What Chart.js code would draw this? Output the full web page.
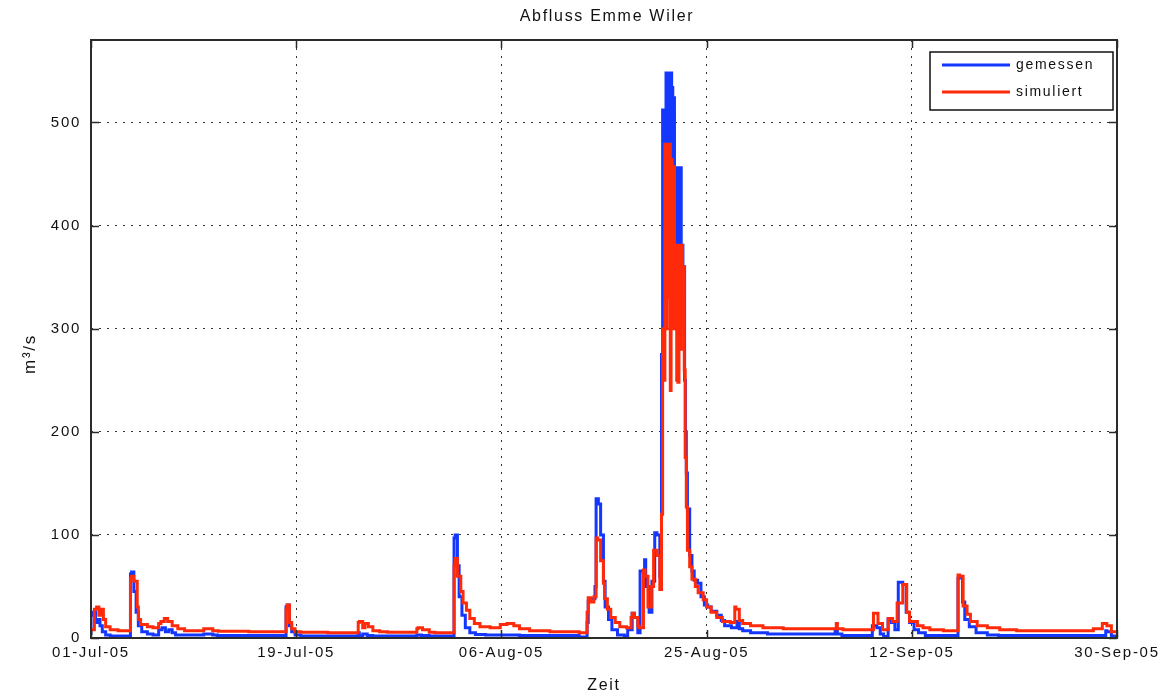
<!DOCTYPE html>
<html>
<head>
<meta charset="utf-8">
<title>Abfluss Emme Wiler</title>
<script src="https://cdn.jsdelivr.net/npm/chart.js@4.4.1/dist/chart.umd.min.js"></script>
<style>
  html, body { margin: 0; padding: 0; background: #ffffff; }
  #wrap { width: 1165px; height: 699px; }
</style>
</head>
<body>
<div id="wrap"><canvas id="c" width="1165" height="699"></canvas></div>
<script>
// Discharge of the Emme at Wiler, 01-Jul-2005 .. 30-Sep-2005.
// Time is given in days since 01-Jul-05 00:00, flow in m3/s.

const titleText = 'Abfluss Emme Wiler';
const xAxisTitle = 'Zeit';
const yAxisTitle = 'm³/s';
const seriesNames = ['gemessen', 'simuliert'];

const xTickDay = [0, 18.2, 36.4, 54.6, 72.8, 91];
const xTickLabel = ['01-Jul-05', '19-Jul-05', '06-Aug-05', '25-Aug-05', '12-Sep-05', '30-Sep-05'];
const yTicks = [0, 100, 200, 300, 400, 500];

// measured discharge
const measuredDay = [
  0, 0.15, 0.4, 0.55, 0.8, 1.0, 1.3, 1.7, 2.4, 3.5,
  3.6, 3.8, 4.0, 4.2, 4.5, 5.0, 5.5, 6.0, 6.3, 6.6,
  6.9, 7.2, 7.5, 8.3, 10, 10.8, 11.2, 14, 17.3, 17.4,
  17.6, 17.8, 18.1, 18.6, 20, 23.7, 23.8, 24.1, 24.5, 25,
  28.9, 29.3, 30, 32.2, 32.3, 32.5, 32.65, 32.9, 33.2, 33.6,
  34.1, 35, 38, 43.3, 43.4, 44.0, 44.1, 44.3, 44.7, 44.8,
  45.0, 45.2, 45.45, 45.6, 45.9, 46.2, 46.7, 47.3, 47.6, 48.0,
  48.2, 48.5, 48.7, 49.1, 49.2, 49.5, 49.75, 50.0, 50.2, 50.45,
  50.6, 50.7, 50.8, 50.9, 51.0, 51.1, 51.2, 51.3, 51.4, 51.5,
  51.6, 51.7, 51.75, 51.85, 51.95, 52.05, 52.15, 52.25, 52.35, 52.45,
  52.5, 52.58, 52.65, 52.72, 52.8, 52.9, 53.1, 53.3, 53.5, 53.8,
  54.1, 54.4, 54.7, 55.0, 55.5, 55.9, 56.2, 56.8, 57.3, 57.5,
  57.8, 58.5, 60, 62, 66, 66.2, 66.6, 69.3, 69.7, 70.0,
  70.3, 70.7, 71.0, 71.3, 71.6, 72.0, 72.3, 72.6, 73.0, 73.4,
  74.0, 75.5, 76.9, 77.0, 77.3, 77.5, 77.9, 78.5, 79.5, 80.5,
  90, 90.1, 90.5, 91
];
const measuredFlow = [
  3, 22, 25, 15, 18, 12, 6, 3, 2, 2,
  62, 64, 45, 25, 12, 6, 4, 3, 8, 10,
  6, 8, 5, 3, 3, 4, 3, 2.5, 2.5, 30,
  32, 12, 6, 3, 2, 2, 5, 2, 4, 2.5,
  2, 3, 2.5, 2, 97, 100, 70, 40, 22, 10,
  5, 3.5, 3, 2.5, 1, 1, 15, 36, 38, 50,
  135, 130, 100, 55, 30, 18, 8, 3, 2, 8,
  24, 20, 5, 65, 76, 50, 25, 55, 102, 100,
  60, 275, 512, 300, 512, 548, 350, 548, 380, 548,
  534, 400, 524, 380, 456, 300, 456, 320, 456, 300,
  381, 320, 360, 250, 200, 160, 125, 80, 65, 56,
  53, 40, 32, 30, 26, 22, 17, 12, 10, 16,
  9, 7, 5, 4, 4, 8, 4, 2.5, 12, 10,
  4, 1.5, 18, 15, 8, 54, 52, 25, 15, 8,
  5, 2.5, 2.5, 58, 59, 35, 18, 11, 5, 3,
  2.5, 7, 6, 2
];

// simulated discharge
const simulatedDay = [
  0, 0.3, 0.5, 0.7, 0.9, 1.1, 1.3, 1.7, 2.4, 3.5,
  3.6, 3.8, 4.1, 4.2, 4.4, 5.0, 5.5, 6.0, 6.2, 6.5,
  6.8, 7.2, 7.7, 8.3, 10, 10.8, 11.3, 14, 17.3, 17.4,
  17.6, 17.8, 18.1, 18.6, 21, 23.7, 23.8, 24.1, 24.3, 24.6,
  25, 25.6, 26.3, 28.9, 29.0, 29.4, 30.0, 30.5, 32.2, 32.3,
  32.5, 32.8, 33.0, 33.3, 33.6, 34.0, 34.5, 35.4, 36.3, 36.9,
  37.5, 38.0, 38.9, 40.7, 43.3, 44.0, 44.1, 44.3, 44.6, 44.8,
  44.95, 45.2, 45.45, 45.55, 45.8, 46.1, 46.5, 46.9, 47.5, 47.9,
  48.0, 48.2, 48.5, 48.6, 49.0, 49.15, 49.4, 49.7, 49.9, 50.2,
  50.45, 50.6, 50.7, 50.8, 50.9, 51.0, 51.1, 51.2, 51.3, 51.38,
  51.45, 51.55, 51.65, 51.75, 51.85, 51.95, 52.05, 52.15, 52.25, 52.35,
  52.45, 52.55, 52.62, 52.7, 52.8, 52.9, 53.1, 53.3, 53.6, 53.85,
  54.3, 54.6, 55.0, 55.5, 56.0, 56.7, 57.1, 57.2, 57.5, 57.8,
  58.5, 59.6, 61.4, 62, 66.1, 66.2, 66.7, 69.4, 69.8, 70.2,
  70.7, 71.1, 71.5, 72.0, 72.35, 72.6, 73.3, 73.8, 74.4, 75.6,
  76.9, 77.05, 77.35, 77.7, 78.0, 78.6, 79.5, 80.6, 82.1, 88.9,
  89.7, 90.1, 90.5, 91
];
const simulatedFlow = [
  8, 8, 28, 30, 22, 28, 18, 11, 8, 7,
  58, 60, 55, 30, 18, 13, 11, 10, 14, 16,
  19, 16, 12, 9, 7, 9, 7, 6.5, 6, 28,
  32, 15, 9, 6, 5.5, 5, 15, 16, 10, 14,
  11, 7, 6, 5.5, 9, 10, 8, 5.5, 5, 70,
  77, 60, 45, 34, 27, 19, 14, 11, 10, 13,
  14, 12, 9, 7, 6, 5, 25, 39, 35, 40,
  97, 95, 75, 53, 38, 28, 20, 15, 11, 10,
  20, 24, 20, 12, 10, 66, 60, 30, 50, 85,
  80, 47, 120, 300, 250, 479, 300, 479, 330, 479,
  240, 464, 300, 457, 300, 381, 250, 248, 381, 280,
  381, 300, 360, 260, 175, 127, 85, 69, 57, 50,
  44, 37, 30, 25, 20, 16, 15, 30, 28, 17,
  14, 12, 10, 9, 9, 14, 9, 8, 24, 14,
  8, 19, 16, 34, 52, 25, 16, 12, 10, 8,
  7, 61, 60, 31, 23, 16, 12, 10, 8, 7,
  9, 14, 12, 6
];

const toPoints = (days, flows) => days.map((d, i) => ({ x: d, y: flows[i] }));

const AXIS_COLOR = '#2b2b2b';
const TEXT_COLOR = '#111111';
const FONT = 'Arial, "Liberation Sans", Helvetica, sans-serif';

// Wider glyph spacing, like the classic plot window fonts
const spacingPlugin = {
  id: 'spacing',
  beforeDraw(chart) { chart.ctx.letterSpacing = '1.7px'; }
};

// Title above the axes box and the rotated unit label
const titlePlugin = {
  id: 'plotTitle',
  afterDraw(chart) {
    const { ctx, chartArea } = chart;
    ctx.save();
    ctx.fillStyle = TEXT_COLOR;
    ctx.textAlign = 'center';
    ctx.textBaseline = 'middle';
    ctx.font = '16px ' + FONT;
    ctx.fillText(titleText, (chartArea.left + chartArea.right) / 2 + 3, 17);
    ctx.translate(30, (chartArea.top + chartArea.bottom) / 2 + 15);
    ctx.rotate(-Math.PI / 2);
    ctx.font = '17px ' + FONT;
    ctx.fillText(yAxisTitle, 0, 0);
    ctx.restore();
  }
};

// Axes frame with inward tick marks on all four sides
const framePlugin = {
  id: 'frame',
  afterDatasetsDraw(chart) {
    const { ctx, chartArea: a, scales } = chart;
    const len = 8;
    ctx.save();
    ctx.strokeStyle = AXIS_COLOR;
    ctx.lineWidth = 1.5;
    ctx.beginPath();
    scales.x.ticks.forEach(t => {
      const px = Math.round(scales.x.getPixelForValue(t.value)) + 0.5;
      ctx.moveTo(px, a.bottom); ctx.lineTo(px, a.bottom - len);
      ctx.moveTo(px, a.top); ctx.lineTo(px, a.top + len);
    });
    scales.y.ticks.forEach(t => {
      const py = Math.round(scales.y.getPixelForValue(t.value)) + 0.5;
      ctx.moveTo(a.left, py); ctx.lineTo(a.left + len, py);
      ctx.moveTo(a.right, py); ctx.lineTo(a.right - len, py);
    });
    ctx.stroke();
    ctx.lineWidth = 2;
    ctx.strokeRect(a.left, a.top, a.right - a.left, a.bottom - a.top);
    ctx.restore();
  }
};

// Boxed legend in the upper right corner of the axes
const legendPlugin = {
  id: 'boxLegend',
  afterDraw(chart) {
    const { ctx, chartArea: a } = chart;
    const w = 183, h = 58;
    const x0 = a.right - 4 - w, y0 = a.top + 12;
    ctx.save();
    ctx.fillStyle = '#ffffff';
    ctx.fillRect(x0, y0, w, h);
    ctx.strokeStyle = '#111111';
    ctx.lineWidth = 1.5;
    ctx.strokeRect(x0, y0, w, h);
    ctx.font = '14px ' + FONT;
    ctx.textBaseline = 'middle';
    ctx.textAlign = 'left';
    chart.data.datasets.forEach((ds, i) => {
      const y = y0 + 13 + i * 27;
      ctx.strokeStyle = ds.borderColor;
      ctx.lineWidth = 3;
      ctx.beginPath();
      ctx.moveTo(x0 + 12, y);
      ctx.lineTo(x0 + 80, y);
      ctx.stroke();
      ctx.fillStyle = TEXT_COLOR;
      ctx.fillText(ds.label, x0 + 86, y);
    });
    ctx.restore();
  }
};

const seriesStyle = {
  borderWidth: 3,
  pointRadius: 0,
  tension: 0,
  stepped: 'after',
  borderJoinStyle: 'miter',
  borderCapStyle: 'butt'
};

new Chart(document.getElementById('c'), {
  type: 'line',
  data: {
    datasets: [
      Object.assign({
        label: seriesNames[0],
        data: toPoints(measuredDay, measuredFlow),
        borderColor: '#1437ff',
        backgroundColor: '#1437ff',
        order: 2
      }, seriesStyle),
      Object.assign({
        label: seriesNames[1],
        data: toPoints(simulatedDay, simulatedFlow),
        borderColor: '#ff2a0a',
        backgroundColor: '#ff2a0a',
        order: 1
      }, seriesStyle)
    ]
  },
  options: {
    responsive: false,
    animation: false,
    devicePixelRatio: 1,
    layout: { padding: { top: 40, right: 48, left: 0, bottom: 0 } },
    plugins: {
      legend: { display: false },
      title: { display: false },
      tooltip: { enabled: false }
    },
    scales: {
      x: {
        type: 'linear',
        min: 0,
        max: 91,
        afterBuildTicks(scale) {
          scale.ticks = xTickDay.map(v => ({ value: v }));
        },
        afterFit(scale) { scale.height = 61; },
        ticks: {
          autoSkip: false,
          maxRotation: 0,
          padding: 6,
          color: TEXT_COLOR,
          font: { family: FONT, size: 15 },
          callback: (v, i) => xTickLabel[i]
        },
        grid: { color: '#333333', lineWidth: 1, drawTicks: false },
        border: { display: false, dash: [2, 6] },
        title: {
          display: true,
          text: xAxisTitle,
          color: TEXT_COLOR,
          font: { family: FONT, size: 16 },
          padding: { top: 0, bottom: 4 }
        }
      },
      y: {
        type: 'linear',
        min: 0,
        max: 580,
        afterBuildTicks(scale) {
          scale.ticks = yTicks.map(v => ({ value: v }));
        },
        afterFit(scale) { scale.width = 91; },
        ticks: {
          padding: 10,
          color: TEXT_COLOR,
          font: { family: FONT, size: 15 }
        },
        grid: { color: '#333333', lineWidth: 1, drawTicks: false },
        border: { display: false, dash: [2, 6] }
      }
    }
  },
  plugins: [spacingPlugin, titlePlugin, framePlugin, legendPlugin]
});
</script>
</body>
</html>
